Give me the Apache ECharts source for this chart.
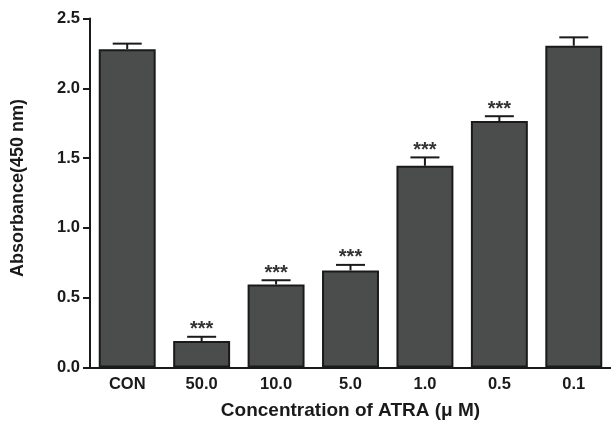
<!DOCTYPE html>
<html>
<head>
<meta charset="utf-8">
<script src="https://cdn.jsdelivr.net/npm/echarts@6/dist/echarts.min.js"></script>
<style>html,body{margin:0;padding:0;background:#fff}#c{width:611px;height:425px}</style>
</head>
<body>
<div id="c"></div>
<script>
const categories = ['CON', '50.0', '10.0', '5.0', '1.0', '0.5', '0.1'];
const means = [2.28, 0.19, 0.595, 0.695, 1.445, 1.765, 2.305];
const errors = [0.04, 0.03, 0.03, 0.04, 0.06, 0.035, 0.06];
const marks = ['', '***', '***', '***', '***', '***', ''];
const yTicks = [0, 0.5, 1.0, 1.5, 2.0, 2.5];

const FONT = '"Liberation Sans", Arial, sans-serif';
const chart = echarts.init(document.getElementById('c'), null, {renderer: 'canvas'});

const errData = categories.map((c, i) => [i, means[i], errors[i], marks[i]]);

chart.setOption({
  animation: false,
  backgroundColor: '#fff',
  grid: {left: 90, right: 0, top: 18.5, bottom: 57.5, containLabel: false, outerBoundsMode: 'none'},
  xAxis: {
    type: 'category',
    data: categories,
    name: 'Concentration of ATRA (\u03bc M)',
    nameLocation: 'middle',
    nameGap: 34,
    nameTextStyle: {fontFamily: FONT, fontWeight: 'bold', fontSize: 19, color: '#1a1a1a'},
    axisLine: {lineStyle: {color: '#1a1a1a', width: 2}},
    axisTick: {alignWithLabel: true, length: 6, lineStyle: {color: '#1a1a1a', width: 2}},
    axisLabel: {fontFamily: FONT, fontWeight: 'bold', fontSize: 16.5, color: '#1a1a1a', margin: 8}
  },
  yAxis: {
    type: 'value',
    min: yTicks[0],
    max: yTicks[yTicks.length - 1],
    interval: 0.5,
    name: 'Absorbance(450 nm)',
    nameLocation: 'middle',
    nameGap: 63,
    nameTextStyle: {fontFamily: FONT, fontWeight: 'bold', fontSize: 18, color: '#1a1a1a',
      padding: [0, 0, 0, 10]},
    axisLine: {show: true, lineStyle: {color: '#1a1a1a', width: 2}},
    axisTick: {show: true, length: 7, lineStyle: {color: '#1a1a1a', width: 2}},
    splitLine: {show: false},
    axisLabel: {fontFamily: FONT, fontWeight: 'bold', fontSize: 16.5, color: '#1a1a1a', margin: 10,
      formatter: v => v.toFixed(1)}
  },
  series: [
    {
      type: 'bar',
      data: means,
      barCategoryGap: '23.5%',
      itemStyle: {color: '#4b4d4d', borderColor: '#1a1a1a', borderWidth: 2}
    },
    {
      type: 'custom',
      data: errData,
      z: 3,
      renderItem: function (params, api) {
        const i = api.value(0);
        const m = api.value(1);
        const e = api.value(2);
        const mk = marks[i];
        const top = api.coord([i, m]);
        const cap = api.coord([i, m + e]);
        const hw = 14.5;
        const children = [
          {type: 'line', shape: {x1: top[0], y1: top[1], x2: cap[0], y2: cap[1]},
            style: {stroke: '#1a1a1a', lineWidth: 2}},
          {type: 'line', shape: {x1: cap[0] - hw, y1: cap[1], x2: cap[0] + hw, y2: cap[1]},
            style: {stroke: '#1a1a1a', lineWidth: 2}}
        ];
        if (mk) {
          children.push({type: 'text', x: cap[0], y: cap[1] + 3,
            style: {text: mk, fontFamily: FONT, fontWeight: 'bold', fontSize: 20, fill: '#333',
              align: 'center', verticalAlign: 'bottom'}});
        }
        return {type: 'group', children: children};
      }
    }
  ]
});
</script>
</body>
</html>
